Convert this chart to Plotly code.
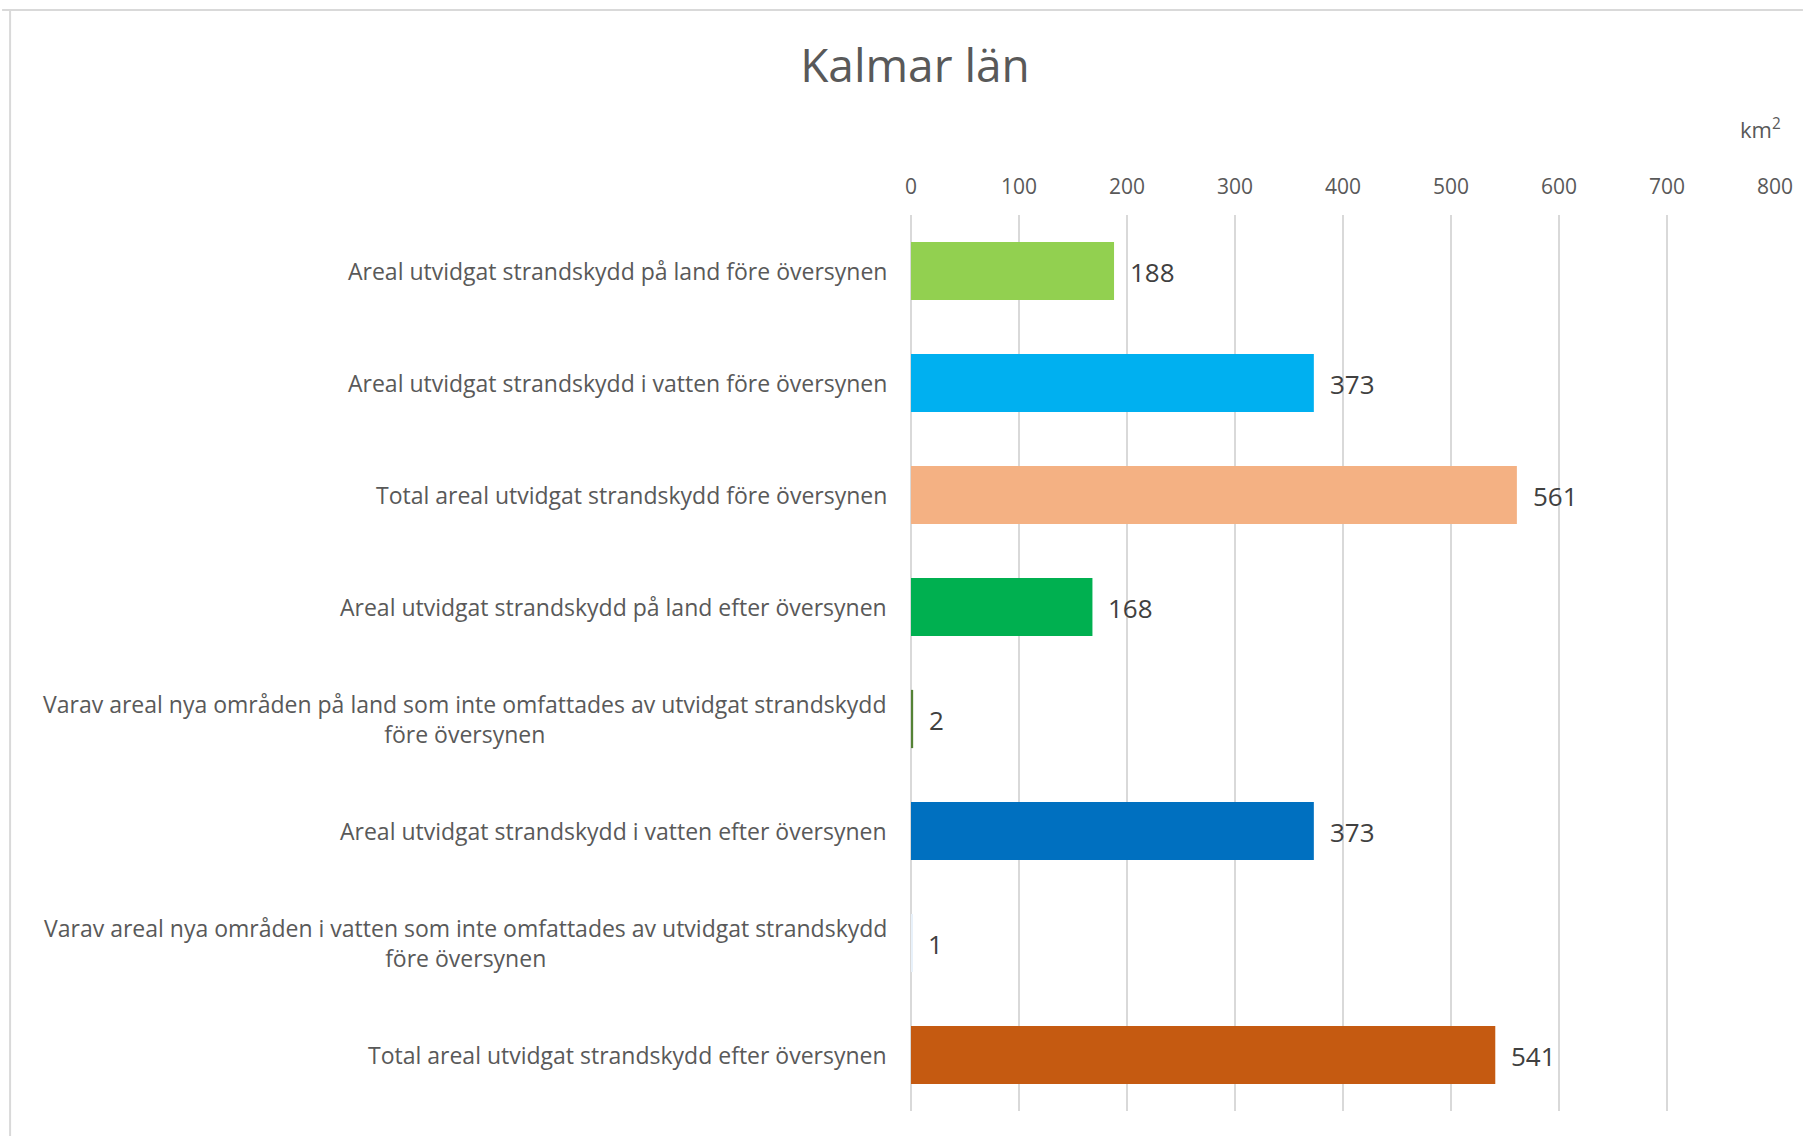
import plotly.graph_objects as go

categories = [
    "Areal utvidgat strandskydd på land före översynen",
    "Areal utvidgat strandskydd i vatten före översynen",
    "Total areal utvidgat strandskydd före översynen",
    "Areal utvidgat strandskydd på land efter översynen",
    "Varav areal nya områden på land som inte omfattades av utvidgat strandskydd<br>före översynen",
    "Areal utvidgat strandskydd i vatten efter översynen",
    "Varav areal nya områden i vatten som inte omfattades av utvidgat strandskydd<br>före översynen",
    "Total areal utvidgat strandskydd efter översynen",
]
values = [188, 373, 561, 168, 2, 373, 1, 541]
colors = ["#92D050", "#00B0F0", "#F4B183", "#00B050", "#548235", "#0070C0", "#E8F1FA", "#C55A11"]
tick_vals = [0, 100, 200, 300, 400, 500, 600, 700, 800]

FONT = "Open Sans"
W, H = 1805, 1136
ML, MR, MT, MB = 911, 28, 215, 25

ids = list(range(len(categories)))

fig = go.Figure()
fig.add_trace(go.Bar(
    x=values, y=ids, orientation="h",
    marker=dict(color=colors, line=dict(width=0)),
    hoverinfo="x",
))

annotations = []
for i, (c, v) in enumerate(zip(categories, values)):
    annotations.append(dict(
        x=0, y=i, xref="x", yref="y", text=c, showarrow=False,
        xanchor="right", yanchor="middle", align="center", xshift=-22,
        font=dict(family=FONT, size=23, color="#595959"),
    ))
    annotations.append(dict(
        x=v, y=i, xref="x", yref="y", text=str(v), showarrow=False,
        xanchor="left", yanchor="middle", xshift=14, yshift=-1,
        font=dict(family=FONT, size=26, color="#404040"),
    ))

pw = W - ML - MR
ph = H - MT - MB
def px_x(p):
    return (p - ML) / pw
def px_y(p):
    return 1 - (p - MT) / ph

annotations.append(dict(
    x=px_x(1762), y=px_y(128), xref="paper", yref="paper",
    text="km<sup>2</sup>", showarrow=False, xanchor="center", yanchor="middle",
    font=dict(family=FONT, size=22, color="#595959"),
))

fig.update_layout(
    width=W, height=H,
    margin=dict(l=ML, r=MR, t=MT, b=MB),
    paper_bgcolor="white", plot_bgcolor="white",
    title=dict(text="Kalmar län", x=915 / W, xanchor="center", y=1 - 66 / H, yanchor="middle",
               font=dict(family=FONT, size=46, color="#595959")),
    bargap=0.48,
    showlegend=False,
    xaxis=dict(
        side="top", range=[0, 800], tickvals=tick_vals,
        ticktext=[str(t) for t in tick_vals],
        showgrid=True, gridcolor="#D9D9D9", gridwidth=1.5,
        zeroline=True, zerolinecolor="#D9D9D9", zerolinewidth=1.5,
        showline=False, ticks="outside", ticklen=12, tickcolor="rgba(0,0,0,0)",
        tickfont=dict(family=FONT, size=21, color="#595959"),
        fixedrange=True,
    ),
    yaxis=dict(
        range=[len(categories) - 0.5, -0.5], showticklabels=False,
        showgrid=False, zeroline=False, showline=False, fixedrange=True,
    ),
    annotations=annotations,
    shapes=[
        dict(type="line", xref="paper", yref="paper",
             x0=px_x(0), x1=px_x(W), y0=px_y(10), y1=px_y(10),
             line=dict(color="#D9D9D9", width=2)),
        dict(type="line", xref="paper", yref="paper",
             x0=px_x(8), x1=px_x(8), y0=px_y(10), y1=px_y(H),
             line=dict(color="#D9D9D9", width=2)),
    ],
)

fig.write_html(
    "out.html",
    config={"displayModeBar": False},
    post_script="document.body.style.margin='0';document.body.style.overflow='hidden';",
)
